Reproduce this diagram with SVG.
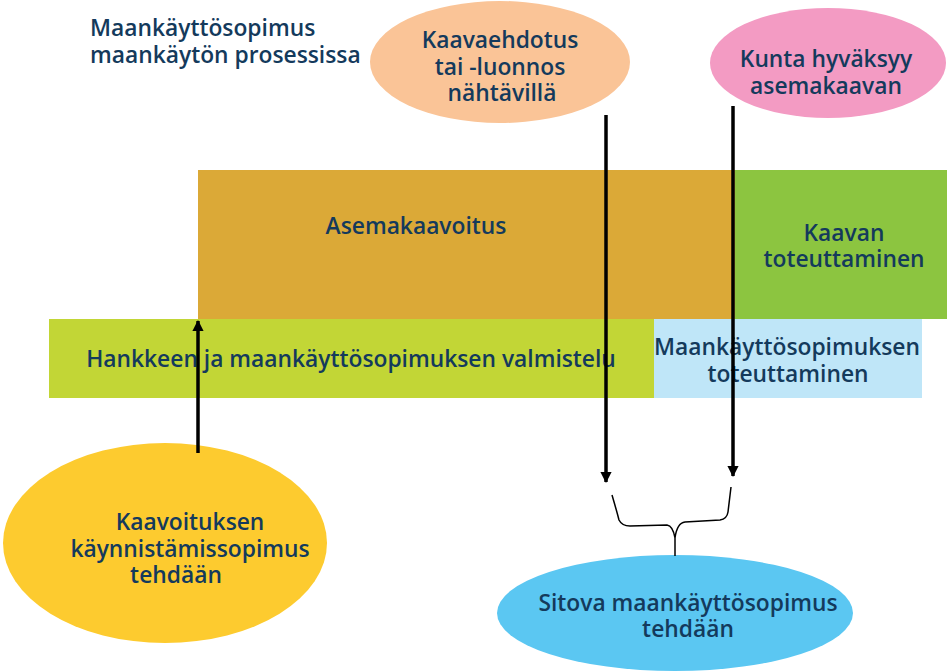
<svg xmlns="http://www.w3.org/2000/svg" width="947" height="671" viewBox="0 0 947 671">
<defs>
<style>
text{font-family:"Open Sans","Noto Sans","Liberation Sans",sans-serif;font-size:22.8px;font-weight:600;fill:#143a5c;}
.c{text-anchor:middle;}
.ln{stroke:#000;stroke-width:3.5;fill:none;}
.br{stroke:#000;stroke-width:1.5;fill:none;}
</style>
<marker id="ah" viewBox="0 0 10 10" refX="9" refY="5" markerWidth="3.6" markerHeight="3.2" orient="auto" markerUnits="strokeWidth">
<path d="M0,0 L10,5 L0,10 z" fill="#000"/>
</marker>
</defs>
<rect width="947" height="671" fill="#fff"/>
<g id="title">
<text x="90" y="36">Maankäyttösopimus</text>
<text x="90" y="63">maankäytön prosessissa</text>
</g>
<g id="asemakaavoitus">
<rect x="198" y="170" width="537" height="149" fill="#dba937"/>
<text class="c" x="416" y="234">Asemakaavoitus</text>
</g>
<g id="kaavan-toteuttaminen">
<rect x="735" y="170" width="212" height="149" fill="#8cc540"/>
<text class="c" x="844" y="241">Kaavan</text>
<text class="c" x="844" y="267">toteuttaminen</text>
</g>
<g id="valmistelu">
<rect x="49" y="319" width="605" height="79" fill="#c2d636"/>
<text class="c" x="351" y="367">Hankkeen ja maankäyttösopimuksen valmistelu</text>
</g>
<g id="mks-toteuttaminen">
<rect x="654" y="319" width="268" height="79" fill="#bfe6f8"/>
<text class="c" x="787" y="355">Maankäyttösopimuksen</text>
<text class="c" x="788" y="382">toteuttaminen</text>
</g>
<g id="kaavaehdotus">
<ellipse cx="500" cy="62" rx="130" ry="61" fill="#fac497"/>
<text class="c" x="500" y="48">Kaavaehdotus</text>
<text class="c" x="500" y="75">tai -luonnos</text>
<text class="c" x="502" y="101">nähtävillä</text>
</g>
<g id="kunta">
<ellipse cx="828" cy="63" rx="118" ry="55" fill="#f39bc3"/>
<text class="c" x="826" y="67">Kunta hyväksyy</text>
<text class="c" x="826" y="94">asemakaavan</text>
</g>
<g id="kaynnistamissopimus">
<ellipse cx="165" cy="543" rx="162" ry="100" fill="#fdcb2f"/>
<text class="c" x="190" y="530">Kaavoituksen</text>
<text class="c" x="190" y="557">käynnistämissopimus</text>
<text class="c" x="176" y="583">tehdään</text>
</g>
<g id="sitova">
<ellipse cx="675" cy="613" rx="178" ry="58" fill="#5bc7f2"/>
<text class="c" x="688" y="611">Sitova maankäyttösopimus</text>
<text class="c" x="688" y="637">tehdään</text>
</g>
<g id="connectors">
<line class="ln" x1="198" y1="453" x2="198" y2="321" marker-end="url(#ah)"/>
<line class="ln" x1="606" y1="115" x2="606" y2="482" marker-end="url(#ah)"/>
<line class="ln" x1="733" y1="106" x2="733" y2="476" marker-end="url(#ah)"/>
<path class="br" d="M612,495 Q617,512 619,520 Q622,526 630,526 L667,525 Q673,526 675,538 L675,556 M675,538 Q677,523 685,522 L720,520 Q727,519 728,512 L731,487"/>
</g>
</svg>
